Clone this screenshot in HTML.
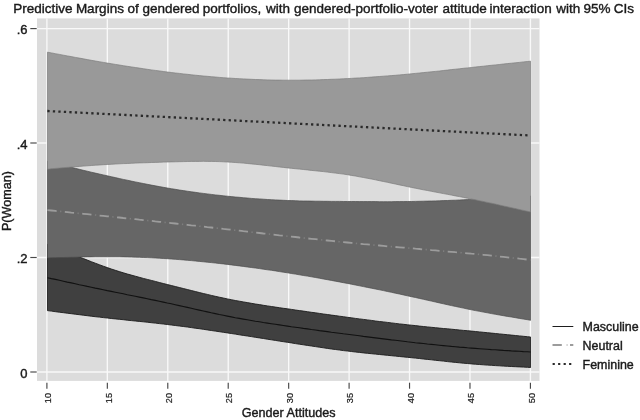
<!DOCTYPE html>
<html><head><meta charset="utf-8"><title>Predictive Margins</title>
<style>
html,body{margin:0;padding:0;background:#fff;}
body{width:640px;height:420px;overflow:hidden;}
svg{display:block;}
text{stroke:#1a1a1a;stroke-width:0.4px;}
text{font-family:"Liberation Sans",Arial,Helvetica,sans-serif;fill:#1a1a1a;}
</style></head><body>
<svg width="640" height="420" viewBox="0 0 640 420">
<rect x="0" y="0" width="640" height="420" fill="#ffffff"/>
<rect x="37" y="18.4" width="502.5" height="362.5" fill="#dcdcdc"/>
<g stroke="#f9f9f9" stroke-width="1.35" fill="none">
<line x1="37" x2="539.5" y1="28.6" y2="28.6"/>
<line x1="37" x2="539.5" y1="143" y2="143"/>
<line x1="37" x2="539.5" y1="257.5" y2="257.5"/>
<line x1="37" x2="539.5" y1="372" y2="372"/>
<line x1="46.9" x2="46.9" y1="18.4" y2="380.9"/>
<line x1="107.34" x2="107.34" y1="18.4" y2="380.9"/>
<line x1="167.78" x2="167.78" y1="18.4" y2="380.9"/>
<line x1="228.22" x2="228.22" y1="18.4" y2="380.9"/>
<line x1="288.66" x2="288.66" y1="18.4" y2="380.9"/>
<line x1="349.1" x2="349.1" y1="18.4" y2="380.9"/>
<line x1="409.54" x2="409.54" y1="18.4" y2="380.9"/>
<line x1="469.98" x2="469.98" y1="18.4" y2="380.9"/>
<line x1="530.42" x2="530.42" y1="18.4" y2="380.9"/>
</g>
<clipPath id="cp"><rect x="47" y="18.4" width="484" height="362.5"/></clipPath>
<g clip-path="url(#cp)">
<polygon points="47.4,244.3 51.4,245.9 55.4,247.5 59.4,249.1 63.4,250.6 67.3,252.2 71.3,253.8 75.3,255.4 79.3,257.0 83.3,258.5 87.3,260.1 91.3,261.7 95.3,263.2 99.3,264.7 103.3,266.2 107.3,267.6 111.3,269.0 115.3,270.3 119.3,271.6 123.3,272.8 127.3,274.0 131.3,275.1 135.3,276.2 139.3,277.3 143.3,278.4 147.3,279.4 151.3,280.4 155.3,281.4 159.3,282.5 163.3,283.5 167.3,284.5 171.3,285.5 175.3,286.5 179.3,287.5 183.3,288.5 187.3,289.5 191.3,290.5 195.3,291.5 199.3,292.5 203.3,293.5 207.3,294.4 211.3,295.4 215.3,296.3 219.3,297.2 223.3,298.0 227.3,298.9 231.3,299.7 235.3,300.5 239.3,301.2 243.3,301.9 247.3,302.6 251.3,303.3 255.3,304.0 259.4,304.6 263.4,305.3 267.4,305.9 271.4,306.5 275.4,307.1 279.4,307.7 283.4,308.3 287.4,308.8 291.4,309.4 295.4,310.0 299.4,310.6 303.4,311.1 307.4,311.7 311.4,312.3 315.4,312.8 319.4,313.4 323.4,314.0 327.4,314.5 331.4,315.1 335.4,315.6 339.4,316.2 343.4,316.7 347.4,317.3 351.4,317.8 355.4,318.4 359.4,318.9 363.4,319.4 367.4,319.9 371.4,320.4 375.4,321.0 379.4,321.5 383.4,321.9 387.4,322.4 391.4,322.9 395.4,323.4 399.4,323.9 403.4,324.3 407.4,324.8 411.4,325.2 415.4,325.6 419.4,326.1 423.4,326.5 427.4,326.9 431.4,327.3 435.4,327.7 439.4,328.1 443.4,328.5 447.4,328.8 451.4,329.2 455.4,329.6 459.4,330.0 463.4,330.4 467.4,330.7 471.4,331.1 475.4,331.5 479.4,331.9 483.4,332.3 487.4,332.7 491.4,333.1 495.4,333.5 499.4,333.9 503.4,334.3 507.4,334.7 511.4,335.1 515.4,335.5 519.4,335.9 523.4,336.3 527.4,336.7 530.6,337.0 530.6,367.5 527.4,367.3 523.4,367.1 519.4,366.9 515.4,366.7 511.4,366.5 507.4,366.3 503.4,366.1 499.4,365.8 495.4,365.6 491.4,365.3 487.4,365.1 483.4,364.8 479.4,364.5 475.4,364.2 471.4,363.9 467.4,363.5 463.4,363.2 459.4,362.8 455.4,362.4 451.4,362.0 447.4,361.6 443.4,361.1 439.4,360.7 435.4,360.3 431.4,359.8 427.4,359.4 423.4,359.0 419.4,358.5 415.4,358.1 411.4,357.7 407.4,357.3 403.4,356.9 399.4,356.5 395.4,356.1 391.4,355.7 387.4,355.3 383.4,354.9 379.4,354.5 375.4,354.1 371.4,353.7 367.4,353.3 363.4,352.9 359.4,352.4 355.4,352.0 351.4,351.5 347.4,351.0 343.4,350.6 339.4,350.0 335.4,349.5 331.4,349.0 327.4,348.4 323.4,347.8 319.4,347.2 315.4,346.6 311.4,346.0 307.4,345.4 303.4,344.8 299.4,344.2 295.4,343.6 291.4,342.9 287.4,342.3 283.4,341.7 279.4,341.1 275.4,340.4 271.4,339.8 267.4,339.2 263.4,338.5 259.4,337.9 255.3,337.3 251.3,336.6 247.3,336.0 243.3,335.4 239.3,334.8 235.3,334.1 231.3,333.5 227.3,332.9 223.3,332.3 219.3,331.7 215.3,331.1 211.3,330.5 207.3,329.9 203.3,329.3 199.3,328.7 195.3,328.2 191.3,327.6 187.3,327.0 183.3,326.5 179.3,326.0 175.3,325.5 171.3,325.0 167.3,324.5 163.3,324.0 159.3,323.6 155.3,323.1 151.3,322.7 147.3,322.2 143.3,321.8 139.3,321.4 135.3,321.0 131.3,320.6 127.3,320.2 123.3,319.7 119.3,319.3 115.3,318.9 111.3,318.5 107.3,318.0 103.3,317.6 99.3,317.1 95.3,316.7 91.3,316.2 87.3,315.7 83.3,315.2 79.3,314.7 75.3,314.2 71.3,313.7 67.3,313.2 63.4,312.7 59.4,312.2 55.4,311.7 51.4,311.1 47.4,310.6" fill="#404040" stroke="#1c1c1c" stroke-width="0.9" stroke-linejoin="round"/>
<polygon points="47.4,161.2 51.4,162.3 55.4,163.3 59.4,164.3 63.4,165.3 67.3,166.3 71.3,167.3 75.3,168.3 79.3,169.3 83.3,170.3 87.3,171.2 91.3,172.2 95.3,173.1 99.3,174.0 103.3,174.9 107.3,175.8 111.3,176.7 115.3,177.6 119.3,178.5 123.3,179.4 127.3,180.2 131.3,181.1 135.3,181.9 139.3,182.7 143.3,183.5 147.3,184.3 151.3,185.1 155.3,185.8 159.3,186.6 163.3,187.3 167.3,188.0 171.3,188.7 175.3,189.3 179.3,190.0 183.3,190.6 187.3,191.2 191.3,191.8 195.3,192.3 199.3,192.9 203.3,193.4 207.3,193.9 211.3,194.4 215.3,194.9 219.3,195.3 223.3,195.8 227.3,196.2 231.3,196.6 235.3,197.0 239.3,197.3 243.3,197.7 247.3,198.0 251.3,198.4 255.3,198.7 259.4,198.9 263.4,199.2 267.4,199.5 271.4,199.7 275.4,199.9 279.4,200.1 283.4,200.3 287.4,200.5 291.4,200.6 295.4,200.7 299.4,200.9 303.4,201.0 307.4,201.0 311.4,201.1 315.4,201.2 319.4,201.2 323.4,201.3 327.4,201.3 331.4,201.4 335.4,201.4 339.4,201.4 343.4,201.5 347.4,201.5 351.4,201.5 355.4,201.5 359.4,201.6 363.4,201.6 367.4,201.6 371.4,201.6 375.4,201.6 379.4,201.7 383.4,201.7 387.4,201.7 391.4,201.7 395.4,201.6 399.4,201.6 403.4,201.6 407.4,201.5 411.4,201.5 415.4,201.4 419.4,201.3 423.4,201.2 427.4,201.1 431.4,201.0 435.4,200.9 439.4,200.8 443.4,200.6 447.4,200.5 451.4,200.3 455.4,200.2 459.4,200.0 463.4,199.8 467.4,199.6 471.4,199.4 475.4,199.2 479.4,199.0 483.4,198.8 487.4,198.6 491.4,198.4 495.4,198.1 499.4,197.9 503.4,197.7 507.4,197.4 511.4,197.2 515.4,196.9 519.4,196.7 523.4,196.4 527.4,196.2 530.6,196.0 530.6,320.3 527.4,319.7 523.4,319.1 519.4,318.4 515.4,317.7 511.4,317.0 507.4,316.4 503.4,315.7 499.4,315.0 495.4,314.3 491.4,313.6 487.4,312.8 483.4,312.1 479.4,311.3 475.4,310.6 471.4,309.8 467.4,309.0 463.4,308.1 459.4,307.3 455.4,306.4 451.4,305.6 447.4,304.7 443.4,303.8 439.4,302.9 435.4,302.0 431.4,301.1 427.4,300.2 423.4,299.3 419.4,298.4 415.4,297.5 411.4,296.7 407.4,295.8 403.4,294.9 399.4,294.0 395.4,293.2 391.4,292.3 387.4,291.5 383.4,290.6 379.4,289.8 375.4,289.0 371.4,288.2 367.4,287.4 363.4,286.6 359.4,285.8 355.4,285.0 351.4,284.2 347.4,283.4 343.4,282.7 339.4,281.9 335.4,281.2 331.4,280.4 327.4,279.7 323.4,279.0 319.4,278.2 315.4,277.5 311.4,276.8 307.4,276.1 303.4,275.5 299.4,274.8 295.4,274.1 291.4,273.5 287.4,272.8 283.4,272.2 279.4,271.6 275.4,270.9 271.4,270.3 267.4,269.8 263.4,269.2 259.4,268.6 255.3,268.0 251.3,267.5 247.3,267.0 243.3,266.4 239.3,265.9 235.3,265.4 231.3,264.9 227.3,264.4 223.3,263.9 219.3,263.5 215.3,263.0 211.3,262.6 207.3,262.2 203.3,261.8 199.3,261.4 195.3,261.0 191.3,260.6 187.3,260.3 183.3,259.9 179.3,259.6 175.3,259.3 171.3,259.0 167.3,258.7 163.3,258.5 159.3,258.2 155.3,258.0 151.3,257.8 147.3,257.6 143.3,257.5 139.3,257.3 135.3,257.2 131.3,257.1 127.3,257.0 123.3,256.9 119.3,256.8 115.3,256.8 111.3,256.8 107.3,256.8 103.3,256.8 99.3,256.8 95.3,256.8 91.3,256.9 87.3,256.9 83.3,257.0 79.3,257.1 75.3,257.2 71.3,257.3 67.3,257.4 63.4,257.5 59.4,257.6 55.4,257.7 51.4,257.8 47.4,258.0" fill="#666666" stroke="#4a4a4a" stroke-width="0.7"/>
<polygon points="47.4,52.2 51.4,52.9 55.4,53.7 59.4,54.4 63.4,55.2 67.3,55.9 71.3,56.6 75.3,57.4 79.3,58.1 83.3,58.8 87.3,59.6 91.3,60.3 95.3,61.0 99.3,61.7 103.3,62.4 107.3,63.1 111.3,63.7 115.3,64.4 119.3,65.0 123.3,65.7 127.3,66.3 131.3,66.9 135.3,67.5 139.3,68.1 143.3,68.7 147.3,69.3 151.3,69.9 155.3,70.4 159.3,70.9 163.3,71.5 167.3,72.0 171.3,72.5 175.3,73.0 179.3,73.4 183.3,73.9 187.3,74.3 191.3,74.8 195.3,75.2 199.3,75.6 203.3,76.0 207.3,76.3 211.3,76.7 215.3,77.0 219.3,77.4 223.3,77.7 227.3,78.0 231.3,78.2 235.3,78.5 239.3,78.7 243.3,78.9 247.3,79.1 251.3,79.3 255.3,79.5 259.4,79.6 263.4,79.8 267.4,79.9 271.4,80.0 275.4,80.1 279.4,80.1 283.4,80.2 287.4,80.2 291.4,80.2 295.4,80.2 299.4,80.2 303.4,80.1 307.4,80.0 311.4,80.0 315.4,79.9 319.4,79.8 323.4,79.6 327.4,79.5 331.4,79.3 335.4,79.2 339.4,79.0 343.4,78.8 347.4,78.6 351.4,78.4 355.4,78.1 359.4,77.9 363.4,77.7 367.4,77.4 371.4,77.1 375.4,76.8 379.4,76.5 383.4,76.2 387.4,75.9 391.4,75.6 395.4,75.3 399.4,74.9 403.4,74.6 407.4,74.2 411.4,73.8 415.4,73.4 419.4,73.0 423.4,72.6 427.4,72.2 431.4,71.8 435.4,71.4 439.4,71.0 443.4,70.5 447.4,70.1 451.4,69.6 455.4,69.2 459.4,68.8 463.4,68.3 467.4,67.9 471.4,67.5 475.4,67.0 479.4,66.6 483.4,66.2 487.4,65.7 491.4,65.3 495.4,64.9 499.4,64.5 503.4,64.0 507.4,63.6 511.4,63.2 515.4,62.8 519.4,62.4 523.4,61.9 527.4,61.5 530.6,61.2 530.6,212.0 527.4,211.3 523.4,210.4 519.4,209.5 515.4,208.6 511.4,207.7 507.4,206.8 503.4,205.9 499.4,205.0 495.4,204.1 491.4,203.2 487.4,202.4 483.4,201.5 479.4,200.7 475.4,199.8 471.4,199.0 467.4,198.2 463.4,197.4 459.4,196.6 455.4,195.9 451.4,195.1 447.4,194.3 443.4,193.6 439.4,192.8 435.4,192.1 431.4,191.3 427.4,190.5 423.4,189.8 419.4,189.0 415.4,188.2 411.4,187.4 407.4,186.6 403.4,185.7 399.4,184.9 395.4,184.0 391.4,183.2 387.4,182.3 383.4,181.5 379.4,180.7 375.4,179.8 371.4,179.0 367.4,178.3 363.4,177.5 359.4,176.8 355.4,176.0 351.4,175.4 347.4,174.7 343.4,174.1 339.4,173.6 335.4,173.1 331.4,172.6 327.4,172.1 323.4,171.6 319.4,171.2 315.4,170.8 311.4,170.4 307.4,169.9 303.4,169.5 299.4,169.1 295.4,168.7 291.4,168.3 287.4,167.9 283.4,167.4 279.4,167.0 275.4,166.5 271.4,166.1 267.4,165.6 263.4,165.2 259.4,164.7 255.3,164.3 251.3,163.9 247.3,163.5 243.3,163.1 239.3,162.8 235.3,162.5 231.3,162.2 227.3,162.0 223.3,161.8 219.3,161.6 215.3,161.5 211.3,161.4 207.3,161.4 203.3,161.3 199.3,161.4 195.3,161.4 191.3,161.4 187.3,161.5 183.3,161.6 179.3,161.7 175.3,161.8 171.3,161.9 167.3,162.0 163.3,162.1 159.3,162.3 155.3,162.4 151.3,162.5 147.3,162.7 143.3,162.8 139.3,162.9 135.3,163.1 131.3,163.3 127.3,163.5 123.3,163.6 119.3,163.8 115.3,164.0 111.3,164.3 107.3,164.5 103.3,164.7 99.3,165.0 95.3,165.2 91.3,165.5 87.3,165.8 83.3,166.1 79.3,166.4 75.3,166.7 71.3,167.1 67.3,167.4 63.4,167.7 59.4,168.1 55.4,168.4 51.4,168.8 47.4,169.2" fill="#999999" stroke="#7c7c7c" stroke-width="0.7"/>
<polyline points="47.4,277.7 51.4,278.6 55.4,279.4 59.4,280.3 63.4,281.2 67.3,282.1 71.3,282.9 75.3,283.8 79.3,284.7 83.3,285.5 87.3,286.4 91.3,287.2 95.3,288.1 99.3,288.9 103.3,289.7 107.3,290.6 111.3,291.4 115.3,292.2 119.3,293.0 123.3,293.8 127.3,294.7 131.3,295.5 135.3,296.3 139.3,297.1 143.3,297.9 147.3,298.7 151.3,299.6 155.3,300.4 159.3,301.2 163.3,302.1 167.3,303.0 171.3,303.8 175.3,304.7 179.3,305.6 183.3,306.5 187.3,307.4 191.3,308.3 195.3,309.2 199.3,310.1 203.3,311.0 207.3,311.9 211.3,312.8 215.3,313.6 219.3,314.5 223.3,315.3 227.3,316.1 231.3,316.9 235.3,317.7 239.3,318.4 243.3,319.1 247.3,319.8 251.3,320.5 255.3,321.2 259.4,321.8 263.4,322.5 267.4,323.1 271.4,323.7 275.4,324.3 279.4,324.9 283.4,325.5 287.4,326.1 291.4,326.7 295.4,327.2 299.4,327.8 303.4,328.4 307.4,328.9 311.4,329.5 315.4,330.0 319.4,330.6 323.4,331.1 327.4,331.6 331.4,332.2 335.4,332.7 339.4,333.2 343.4,333.8 347.4,334.3 351.4,334.8 355.4,335.3 359.4,335.8 363.4,336.4 367.4,336.9 371.4,337.4 375.4,337.9 379.4,338.4 383.4,338.9 387.4,339.4 391.4,339.9 395.4,340.3 399.4,340.8 403.4,341.3 407.4,341.8 411.4,342.2 415.4,342.7 419.4,343.1 423.4,343.5 427.4,344.0 431.4,344.4 435.4,344.8 439.4,345.2 443.4,345.6 447.4,346.0 451.4,346.4 455.4,346.7 459.4,347.1 463.4,347.4 467.4,347.8 471.4,348.1 475.4,348.4 479.4,348.7 483.4,349.0 487.4,349.3 491.4,349.6 495.4,349.8 499.4,350.1 503.4,350.4 507.4,350.6 511.4,350.9 515.4,351.1 519.4,351.3 523.4,351.6 527.4,351.8 530.6,352.0" fill="none" stroke="#111" stroke-width="1.1"/>
<polyline points="47.4,210.1 51.4,210.5 55.4,210.9 59.4,211.3 63.4,211.7 67.3,212.1 71.3,212.6 75.3,213.0 79.3,213.4 83.3,213.8 87.3,214.2 91.3,214.6 95.3,215.0 99.3,215.5 103.3,215.9 107.3,216.3 111.3,216.7 115.3,217.1 119.3,217.5 123.3,218.0 127.3,218.4 131.3,218.8 135.3,219.2 139.3,219.7 143.3,220.1 147.3,220.5 151.3,220.9 155.3,221.4 159.3,221.8 163.3,222.2 167.3,222.7 171.3,223.1 175.3,223.5 179.3,224.0 183.3,224.4 187.3,224.8 191.3,225.3 195.3,225.7 199.3,226.2 203.3,226.6 207.3,227.1 211.3,227.5 215.3,228.0 219.3,228.4 223.3,228.9 227.3,229.3 231.3,229.8 235.3,230.3 239.3,230.7 243.3,231.2 247.3,231.6 251.3,232.1 255.3,232.5 259.4,233.0 263.4,233.5 267.4,233.9 271.4,234.4 275.4,234.8 279.4,235.3 283.4,235.7 287.4,236.2 291.4,236.6 295.4,237.0 299.4,237.5 303.4,237.9 307.4,238.4 311.4,238.8 315.4,239.2 319.4,239.6 323.4,240.1 327.4,240.5 331.4,240.9 335.4,241.3 339.4,241.7 343.4,242.1 347.4,242.5 351.4,242.9 355.4,243.3 359.4,243.7 363.4,244.1 367.4,244.4 371.4,244.8 375.4,245.2 379.4,245.5 383.4,245.9 387.4,246.3 391.4,246.6 395.4,247.0 399.4,247.3 403.4,247.6 407.4,248.0 411.4,248.3 415.4,248.7 419.4,249.0 423.4,249.4 427.4,249.7 431.4,250.1 435.4,250.4 439.4,250.8 443.4,251.1 447.4,251.5 451.4,251.8 455.4,252.2 459.4,252.5 463.4,252.9 467.4,253.3 471.4,253.7 475.4,254.0 479.4,254.4 483.4,254.8 487.4,255.2 491.4,255.6 495.4,256.0 499.4,256.5 503.4,256.9 507.4,257.3 511.4,257.8 515.4,258.2 519.4,258.7 523.4,259.1 527.4,259.6 530.6,260.0" fill="none" stroke="#9c9c9c" stroke-width="1.8" stroke-dasharray="9.3 8.2"/>
<polyline points="47.4,210.1 51.4,210.5 55.4,210.9 59.4,211.3 63.4,211.7 67.3,212.1 71.3,212.6 75.3,213.0 79.3,213.4 83.3,213.8 87.3,214.2 91.3,214.6 95.3,215.0 99.3,215.5 103.3,215.9 107.3,216.3 111.3,216.7 115.3,217.1 119.3,217.5 123.3,218.0 127.3,218.4 131.3,218.8 135.3,219.2 139.3,219.7 143.3,220.1 147.3,220.5 151.3,220.9 155.3,221.4 159.3,221.8 163.3,222.2 167.3,222.7 171.3,223.1 175.3,223.5 179.3,224.0 183.3,224.4 187.3,224.8 191.3,225.3 195.3,225.7 199.3,226.2 203.3,226.6 207.3,227.1 211.3,227.5 215.3,228.0 219.3,228.4 223.3,228.9 227.3,229.3 231.3,229.8 235.3,230.3 239.3,230.7 243.3,231.2 247.3,231.6 251.3,232.1 255.3,232.5 259.4,233.0 263.4,233.5 267.4,233.9 271.4,234.4 275.4,234.8 279.4,235.3 283.4,235.7 287.4,236.2 291.4,236.6 295.4,237.0 299.4,237.5 303.4,237.9 307.4,238.4 311.4,238.8 315.4,239.2 319.4,239.6 323.4,240.1 327.4,240.5 331.4,240.9 335.4,241.3 339.4,241.7 343.4,242.1 347.4,242.5 351.4,242.9 355.4,243.3 359.4,243.7 363.4,244.1 367.4,244.4 371.4,244.8 375.4,245.2 379.4,245.5 383.4,245.9 387.4,246.3 391.4,246.6 395.4,247.0 399.4,247.3 403.4,247.6 407.4,248.0 411.4,248.3 415.4,248.7 419.4,249.0 423.4,249.4 427.4,249.7 431.4,250.1 435.4,250.4 439.4,250.8 443.4,251.1 447.4,251.5 451.4,251.8 455.4,252.2 459.4,252.5 463.4,252.9 467.4,253.3 471.4,253.7 475.4,254.0 479.4,254.4 483.4,254.8 487.4,255.2 491.4,255.6 495.4,256.0 499.4,256.5 503.4,256.9 507.4,257.3 511.4,257.8 515.4,258.2 519.4,258.7 523.4,259.1 527.4,259.6 530.6,260.0" fill="none" stroke="#7e7e7e" stroke-width="1.6" stroke-dasharray="1.3 16.2" stroke-dashoffset="4.75"/>
<line x1="47.35" y1="111" x2="530.65" y2="135.5" stroke="#2a2a2a" stroke-width="2.3" stroke-dasharray="2.3 3.2"/>
</g>
<g stroke="#484848" stroke-width="1.15" fill="none">
<line x1="30.3" x2="36.7" y1="28.6" y2="28.6"/>
<line x1="30.3" x2="36.7" y1="143" y2="143"/>
<line x1="30.3" x2="36.7" y1="257.5" y2="257.5"/>
<line x1="30.3" x2="36.7" y1="372" y2="372"/>
<line x1="46.9" x2="46.9" y1="382.7" y2="388.7"/>
<line x1="107.34" x2="107.34" y1="382.7" y2="388.7"/>
<line x1="167.78" x2="167.78" y1="382.7" y2="388.7"/>
<line x1="228.22" x2="228.22" y1="382.7" y2="388.7"/>
<line x1="288.66" x2="288.66" y1="382.7" y2="388.7"/>
<line x1="349.1" x2="349.1" y1="382.7" y2="388.7"/>
<line x1="409.54" x2="409.54" y1="382.7" y2="388.7"/>
<line x1="469.98" x2="469.98" y1="382.7" y2="388.7"/>
<line x1="530.42" x2="530.42" y1="382.7" y2="388.7"/>
</g>
<text x="27.6" y="34.1" font-size="13" text-anchor="end">.6</text>
<text x="27.6" y="148.5" font-size="13" text-anchor="end">.4</text>
<text x="27.6" y="263.0" font-size="13" text-anchor="end">.2</text>
<text x="27.6" y="377.5" font-size="13" text-anchor="end">0</text>
<text transform="translate(51.10,398.1) rotate(-90) scale(1,1.04)" font-size="9.1" style="stroke-width:0.2px" text-anchor="middle">10</text>
<text transform="translate(111.54,398.1) rotate(-90) scale(1,1.04)" font-size="9.1" style="stroke-width:0.2px" text-anchor="middle">15</text>
<text transform="translate(171.98,398.1) rotate(-90) scale(1,1.04)" font-size="9.1" style="stroke-width:0.2px" text-anchor="middle">20</text>
<text transform="translate(232.42,398.1) rotate(-90) scale(1,1.04)" font-size="9.1" style="stroke-width:0.2px" text-anchor="middle">25</text>
<text transform="translate(292.86,398.1) rotate(-90) scale(1,1.04)" font-size="9.1" style="stroke-width:0.2px" text-anchor="middle">30</text>
<text transform="translate(353.30,398.1) rotate(-90) scale(1,1.04)" font-size="9.1" style="stroke-width:0.2px" text-anchor="middle">35</text>
<text transform="translate(413.74,398.1) rotate(-90) scale(1,1.04)" font-size="9.1" style="stroke-width:0.2px" text-anchor="middle">40</text>
<text transform="translate(474.18,398.1) rotate(-90) scale(1,1.04)" font-size="9.1" style="stroke-width:0.2px" text-anchor="middle">45</text>
<text transform="translate(534.62,398.1) rotate(-90) scale(1,1.04)" font-size="9.1" style="stroke-width:0.2px" text-anchor="middle">50</text>
<text font-size="13.5" y="13.4"><tspan x="13.13">Predictive</tspan> <tspan x="75.88">Margins</tspan> <tspan x="127.38">of</tspan> <tspan x="142.38">gendered</tspan> <tspan x="202.8">portfolios,</tspan> <tspan x="266">with</tspan> <tspan x="293.9">gendered-portfolio-voter</tspan> <tspan x="442.4">attitude</tspan> <tspan x="489.4">interaction</tspan> <tspan x="556.3">with</tspan> <tspan x="583.6">95%</tspan> <tspan x="613.75">CIs</tspan></text>
<text x="288.7" y="417.1" font-size="12.6" text-anchor="middle">Gender Attitudes</text>
<text transform="translate(11.1,201.1) rotate(-90)" font-size="12.6" text-anchor="middle">P(Woman)</text>
<line x1="552.5" x2="573.3" y1="326.5" y2="326.5" stroke="#1e1e1e" stroke-width="1"/>
<line x1="552.5" x2="573.3" y1="345" y2="345" stroke="#9c9c9c" stroke-width="1.8" stroke-dasharray="9.3 8.2"/>
<line x1="552.5" x2="573.3" y1="345" y2="345" stroke="#bdbdbd" stroke-width="1.6" stroke-dasharray="1.3 16.2" stroke-dashoffset="3.55"/>
<line x1="552.6" x2="573.3" y1="364" y2="364" stroke="#2a2a2a" stroke-width="2.2" stroke-dasharray="2.2 3.3"/>
<text x="582.6" y="331.2" font-size="12.45">Masculine</text>
<text x="582.6" y="350" font-size="12.45">Neutral</text>
<text x="582.6" y="368.7" font-size="12.45">Feminine</text>
</svg></body></html>
